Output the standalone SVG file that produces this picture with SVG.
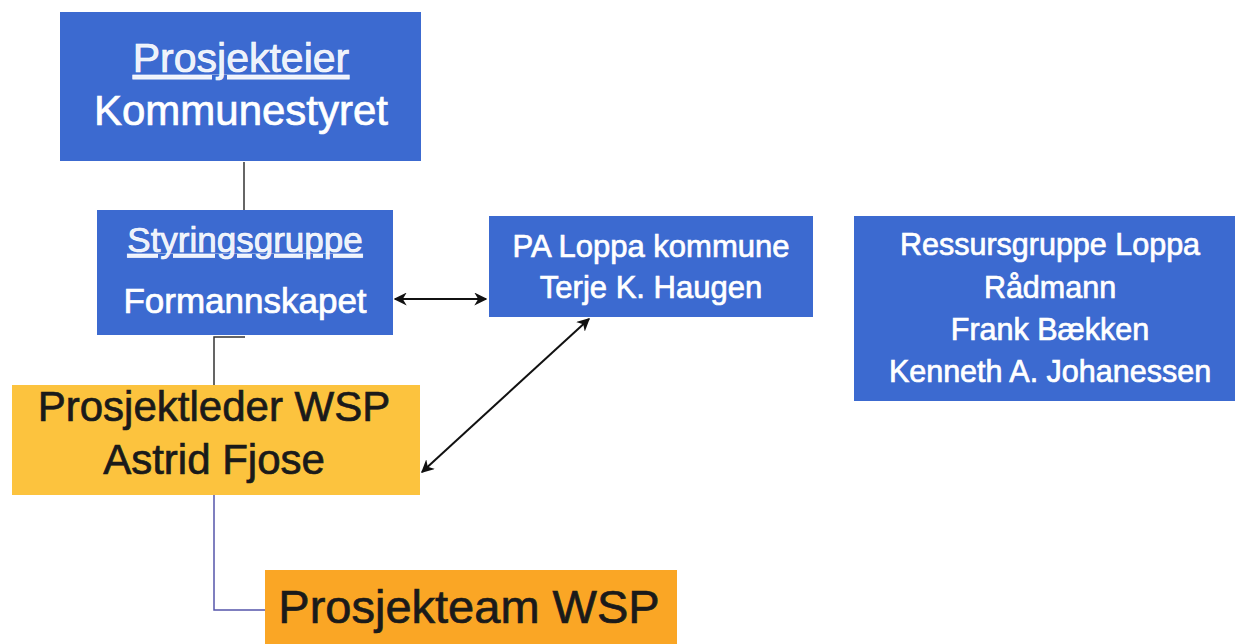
<svg xmlns="http://www.w3.org/2000/svg" width="1235" height="644" viewBox="0 0 1235 644">
<defs>
<marker id="ah" viewBox="0 0 10 10" refX="9" refY="5" markerWidth="13" markerHeight="13" markerUnits="userSpaceOnUse" orient="auto-start-reverse">
<path d="M0,0 L10,5 L0,10 L3,5 Z" fill="#111"/>
</marker>
<style>
.blue{fill:#3C6AD0}
.yel{fill:#FCC33E}
.org{fill:#FAA625}
.w{fill:#fff;stroke:#fff;stroke-width:0.7;font-family:"Liberation Sans",Arial,sans-serif;text-anchor:middle}
.k{fill:#1a1a1a;stroke:#1a1a1a;stroke-width:0.7;font-family:"Liberation Sans",Arial,sans-serif;text-anchor:middle}
.ln{fill:none;stroke:#333;stroke-width:1.5}
.ar{fill:none;stroke:#111;stroke-width:2}
</style>
</defs>
<rect width="1235" height="644" fill="#fff"/>
<g id="connectors">
<path class="ln" d="M244,162 V210"/>
<path class="ln" d="M245,337 H214 V385" stroke="#555"/>
<path d="M214,495 V610 H265" fill="none" stroke="#5555aa" stroke-width="1.5"/>
<path class="ar" d="M395,299 H486" marker-start="url(#ah)" marker-end="url(#ah)"/>
<path class="ar" d="M589,319 L422,472" marker-start="url(#ah)" marker-end="url(#ah)"/>
</g>
<g id="prosjekteier">
<rect class="blue" x="60" y="12" width="361" height="149"/>
<text class="w" x="241" y="72" font-size="41" text-decoration="underline" fill-opacity="0.92">Prosjekteier</text>
<text class="w" x="241" y="125" font-size="42">Kommunestyret</text>
</g>
<g id="styringsgruppe">
<rect class="blue" x="97" y="210" width="296" height="125"/>
<text class="w" x="245" y="252" font-size="35" text-decoration="underline" fill-opacity="0.92">Styringsgruppe</text>
<text class="w" x="245" y="313" font-size="35">Formannskapet</text>
</g>
<g id="pa-loppa">
<rect class="blue" x="489" y="216" width="324" height="101"/>
<text class="w" x="651" y="257" font-size="31">PA Loppa kommune</text>
<text class="w" x="651" y="298" font-size="31">Terje K. Haugen</text>
</g>
<g id="ressursgruppe">
<rect class="blue" x="854" y="216" width="381" height="185"/>
<text class="w" x="1050" y="255" font-size="30.5">Ressursgruppe Loppa</text>
<text class="w" x="1050" y="298" font-size="30.5">Rådmann</text>
<text class="w" x="1050" y="340" font-size="30.5">Frank Bækken</text>
<text class="w" x="1050" y="382" font-size="30.5">Kenneth A. Johanessen</text>
</g>
<g id="prosjektleder">
<rect class="yel" x="12" y="385" width="408" height="110"/>
<text class="k" x="214" y="421" font-size="42">Prosjektleder WSP</text>
<text class="k" x="214" y="474" font-size="42">Astrid Fjose</text>
</g>
<g id="prosjekteam">
<rect class="org" x="265" y="570" width="412" height="80"/>
<text class="k" x="469" y="623" font-size="47">Prosjekteam WSP</text>
</g>
</svg>
